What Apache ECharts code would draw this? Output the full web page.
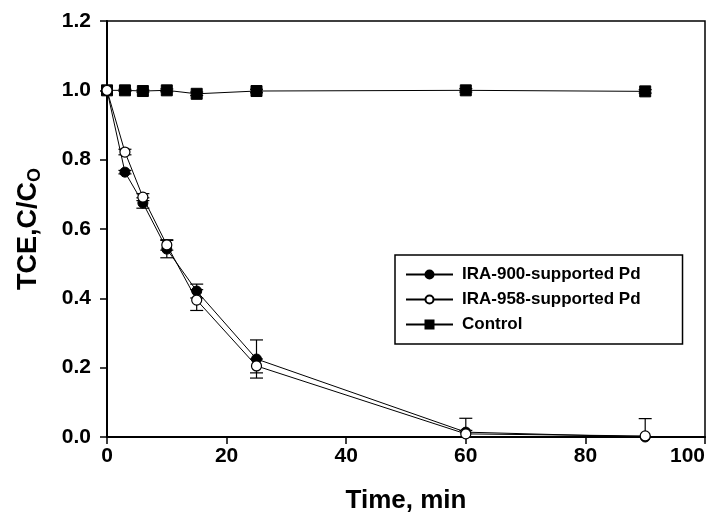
<!DOCTYPE html>
<html>
<head>
<meta charset="utf-8">
<script src="https://cdn.jsdelivr.net/npm/echarts@6/dist/echarts.min.js"></script>
<style>
  html, body { margin: 0; padding: 0; background: #fff; }
  #chart { width: 724px; height: 524px; }
</style>
</head>
<body>
<div id="chart"></div>
<script>
// sampling times, min
var times = [0, 3, 6, 10, 15, 25, 60, 90];

// C/Co values
var ira900 = [1.0, 0.764, 0.675, 0.542, 0.421, 0.225, 0.014, 0.0];
var ira958 = [1.0, 0.822, 0.692, 0.554, 0.395, 0.205, 0.009, 0.003];
var control = [1.0, 1.0, 0.998, 1.0, 0.99, 0.998, 1.0, 0.997];

// error (+/-)
var ira900Err = [0, 0.005, 0.015, 0.025, 0.02, 0.055, 0.04, 0.0];
var ira958Err = [0, 0.008, 0.01, 0.015, 0.03, 0.02, 0.01, 0.05];
var controlErr = [0, 0.003, 0.003, 0.004, 0.005, 0.005, 0.005, 0.005];

var xTicks = { min: 0, max: 100, interval: 20 };
var yTicks = { min: 0, max: 1.2, interval: 0.2 };

function pairs(vals) {
    var out = [];
    for (var i = 0; i < times.length; i++) out.push([times[i], vals[i]]);
    return out;
}

function errData(vals, errs) {
    var out = [];
    for (var i = 0; i < times.length; i++) {
        if (errs[i] > 0) out.push([times[i], vals[i] - errs[i], vals[i] + errs[i]]);
    }
    return out;
}

// error bars: vertical line + caps
function errRender(params, api) {
    var x = api.value(0);
    var lo = api.coord([x, api.value(1)]);
    var hi = api.coord([x, api.value(2)]);
    var hw = 6.5;
    var st = { stroke: '#000', lineWidth: 1.2 };
    return {
        type: 'group',
        children: [
            { type: 'line', shape: { x1: lo[0], y1: lo[1], x2: hi[0], y2: hi[1] }, style: st },
            { type: 'line', shape: { x1: lo[0] - hw, y1: lo[1], x2: lo[0] + hw, y2: lo[1] }, style: st },
            { type: 'line', shape: { x1: hi[0] - hw, y1: hi[1], x2: hi[0] + hw, y2: hi[1] }, style: st }
        ]
    };
}

var myChart = echarts.init(document.getElementById('chart'));

var option = {
    animation: false,
    backgroundColor: '#fff',
    textStyle: { fontFamily: 'Liberation Sans, Arial, sans-serif' },
    grid: {
        left: 107, right: 19, top: 21, bottom: 87,
        show: true, borderColor: '#000', borderWidth: 1.5
    },
    legend: {
        orient: 'vertical',
        left: 395,
        top: 255,
        padding: [11, 42, 11, 10],
        borderColor: '#000',
        borderWidth: 1.5,
        itemWidth: 47,
        itemHeight: 10,
        itemGap: 8,
        textStyle: { fontSize: 17, fontWeight: 'bold', color: '#000', padding: [0, 0, 0, 4] },
        data: ['IRA-900-supported Pd', 'IRA-958-supported Pd', 'Control']
    },
    xAxis: {
        type: 'value',
        min: xTicks.min, max: xTicks.max, interval: xTicks.interval,
        name: 'Time, min',
        nameLocation: 'middle',
        nameGap: 51,
        nameTextStyle: { fontSize: 26, fontWeight: 'bold', color: '#000' },
        axisLine: { lineStyle: { color: '#000', width: 2 } },
        axisTick: { length: 7, lineStyle: { color: '#000', width: 1.5 } },
        axisLabel: {
            fontSize: 21, fontWeight: 'bold', color: '#000', margin: 9,
            alignMaxLabel: 'right'
        },
        splitLine: { show: false }
    },
    yAxis: {
        type: 'value',
        min: yTicks.min, max: yTicks.max, interval: yTicks.interval,
        name: 'TCE,C/C{sub|O}',
        nameLocation: 'middle',
        nameGap: 63,
        nameTextStyle: {
            fontSize: 27, fontWeight: 'bold', color: '#000',
            rich: { sub: { fontSize: 18, fontWeight: 'bold', color: '#000', padding: [12, 0, 0, 0] } }
        },
        axisLine: { lineStyle: { color: '#000', width: 2 } },
        axisTick: { length: 7, lineStyle: { color: '#000', width: 1.5 } },
        axisLabel: {
            fontSize: 21, fontWeight: 'bold', color: '#000', margin: 16,
            formatter: function (v) { return v.toFixed(1); }
        },
        splitLine: { show: false }
    },
    series: [
        {
            type: 'custom', name: 'err900', renderItem: errRender, clip: true,
            data: errData(ira900, ira900Err), z: 1
        },
        {
            type: 'custom', name: 'err958', renderItem: errRender, clip: true,
            data: errData(ira958, ira958Err), z: 1
        },
        {
            type: 'custom', name: 'errCtl', renderItem: errRender, clip: true,
            data: errData(control, controlErr), z: 1
        },
        {
            name: 'IRA-900-supported Pd', type: 'line', data: pairs(ira900),
            symbol: 'circle', symbolSize: 10,
            lineStyle: { color: '#000', width: 1 },
            itemStyle: { color: '#000', borderColor: '#000', borderWidth: 1 },
            z: 3
        },
        {
            name: 'IRA-958-supported Pd', type: 'line', data: pairs(ira958),
            symbol: 'circle', symbolSize: 10,
            lineStyle: { color: '#000', width: 1 },
            itemStyle: { color: '#fff', borderColor: '#000', borderWidth: 1.2 },
            z: 4
        },
        {
            name: 'Control', type: 'line', data: pairs(control),
            symbol: 'rect', symbolSize: 11,
            lineStyle: { color: '#000', width: 1 },
            itemStyle: { color: '#000', borderColor: '#000', borderWidth: 1 },
            z: 3
        }
    ]
};

myChart.setOption(option);
window.onresize = myChart.resize;
</script>
</body>
</html>
